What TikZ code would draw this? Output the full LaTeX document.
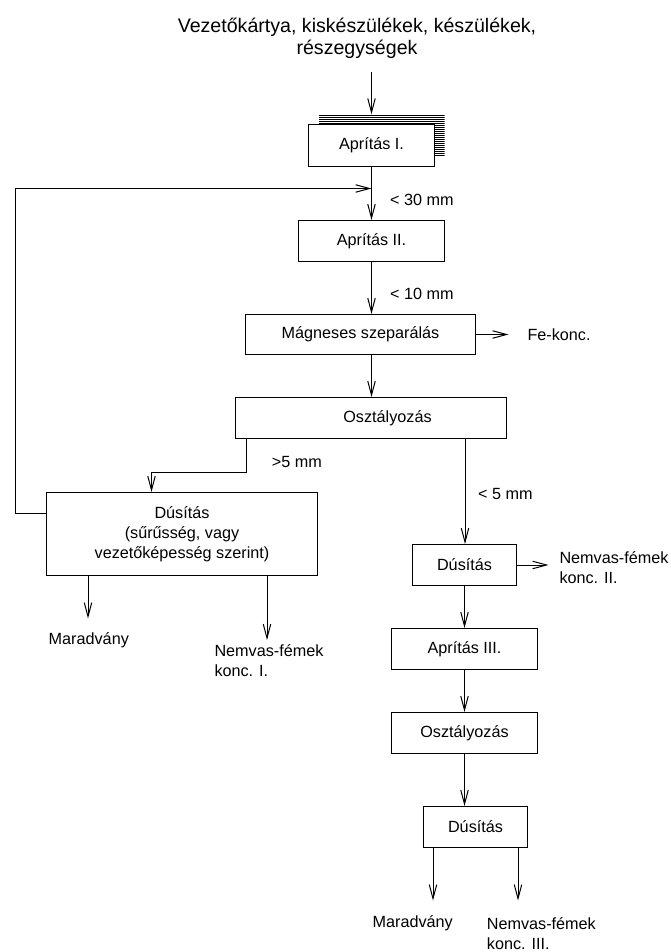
\documentclass[tikz,border=0pt]{standalone}
\usepackage{fontspec}
\setmainfont{Liberation Sans}
\usetikzlibrary{arrows.meta}
\newcommand\lblfont{\fontsize{16.2}{20.5}\selectfont}
\newcommand\boxfont{\fontsize{16.2}{20}\selectfont}
\newcommand\ttlfont{\fontsize{19.6}{22.5}\selectfont}
\begin{document}
\begin{tikzpicture}[x=1pt,y=-1pt,
  proc/.style={draw, line width=1pt, fill=white, inner sep=0pt, font=\boxfont},
  lbl/.style={inner sep=0pt, font=\lblfont, align=left},
  ttl/.style={inner sep=0pt, font=\ttlfont, anchor=base},
  flow/.style={line width=1pt, -{Straight Barb[length=14pt,width=7.5pt,line width=1pt]}}]
\useasboundingbox (0,0) rectangle (671,952);

% heading
\node[ttl] (t1) at (357,32.5) {Vezetőkártya, kiskészülékek, készülékek,};
\node[ttl] (t2) at (357,55) {részegységek};
\coordinate (in) at (371.5,72.5);

% striped shadow behind the first crusher
\node[minimum width=126pt, minimum height=41pt, inner sep=0pt,
  path picture={
    \foreach \k in {0,...,20}
      \draw[line width=1.35pt]
        ([yshift=-\k*2pt-1pt]path picture bounding box.north west) --
        ([yshift=-\k*2pt-1pt]path picture bounding box.north east);
  }] (sh) at (381.5,135) {};

% process boxes
\node[proc, minimum width=126pt, minimum height=42pt] (a1) at (371.5,145.5) {Aprítás I.};
\node[proc, minimum width=146pt, minimum height=41pt] (a2) at (371.5,241) {Aprítás II.};
\node[proc, minimum width=230pt, minimum height=40pt] (mag) at (360.5,334.5) {Mágneses szeparálás};
\node[proc, minimum width=271pt, minimum height=41pt] (osz) at (371,418) {};
\node[lbl] (oszt) at (387.5,418) {Osztályozás};
\node[proc, minimum width=271pt, minimum height=83pt, align=center] (dus1) at (182,534)
  {Dúsítás\\(sűrűsség, vagy\\vezetőképesség szerint)};
\node[proc, minimum width=104pt, minimum height=41pt] (dus2) at (464.5,565) {Dúsítás};
\node[proc, minimum width=146pt, minimum height=41pt] (a3) at (464.5,649) {Aprítás III.};
\node[proc, minimum width=146pt, minimum height=41pt] (osz2) at (464.5,733) {Osztályozás};
\node[proc, minimum width=104pt, minimum height=41pt] (dus3) at (475.5,827) {Dúsítás};

% products and size labels
\node[lbl, anchor=west] (s30) at (390,200) {< 30 mm};
\node[lbl, anchor=west] (s10) at (390,294) {< 10 mm};
\node[lbl, anchor=west] (fe) at (527.3,334.5) {Fe-konc.};
\node[lbl, anchor=west] (g5) at (271.7,461.7) {>5 mm};
\node[lbl, anchor=west] (l5) at (478,494.3) {< 5 mm};
\node[lbl, anchor=west] (nf2) at (559.3,567.5) {Nemvas-fémek\\konc. II.};
\node[lbl] (mar1) at (88.8,640) {Maradvány};
\node[lbl, anchor=west] (nf1) at (214.3,660.7) {Nemvas-fémek\\konc. I.};
\node[lbl] (mar3) at (412.7,923.3) {Maradvány};
\node[lbl, anchor=west] (nf3) at (486.7,933.7) {Nemvas-fémek\\konc. III.};

% connectors
\coordinate (fb) at (371.5,188.5);
\coordinate (fbc) at (15.5,188.5);
\coordinate (oszl) at ([xshift=11pt]osz.south west);
\coordinate (oszr) at ([xshift=-42pt]osz.south east);
\coordinate (d1l) at ([xshift=42pt]dus1.south west);
\coordinate (d1r) at ([xshift=-51pt]dus1.south east);
\coordinate (d3l) at ([xshift=10pt]dus3.south west);
\coordinate (d3r) at ([xshift=-10pt]dus3.south east);

\draw[flow] (in) -- (in |- sh.north);
\draw[flow] (a1.south) -- (a1.south |- a2.north);
\draw[flow] ([yshift=-21pt]dus1.north west) -| (fbc) -- (fb);
\draw[flow] (a2.south) -- (a2.south |- mag.north);
\draw[flow] (a2.south |- mag.south) -- (a2.south |- osz.north);
\draw[flow] (mag.east) -- ++(32.5,0);
\draw[flow] (oszl) -- ++(0,33) -| ([xshift=-30.5pt]dus1.north);
\draw[flow] (oszr) -- (oszr |- dus2.north);
\draw[flow] (dus2.east) -- ++(31.5,0);
\draw[flow] (d1l) -- ++(0,42.5);
\draw[flow] (d1r) -- ++(0,64);
\draw[flow] (dus2.south) -- (dus2.south |- a3.north);
\draw[flow] (a3.south) -- (osz2.north);
\draw[flow] (osz2.south) -- (osz2.south |- dus3.north);
\draw[flow] (d3l) -- ++(0,52.5);
\draw[flow] (d3r) -- ++(0,52.5);
\end{tikzpicture}
\end{document}
